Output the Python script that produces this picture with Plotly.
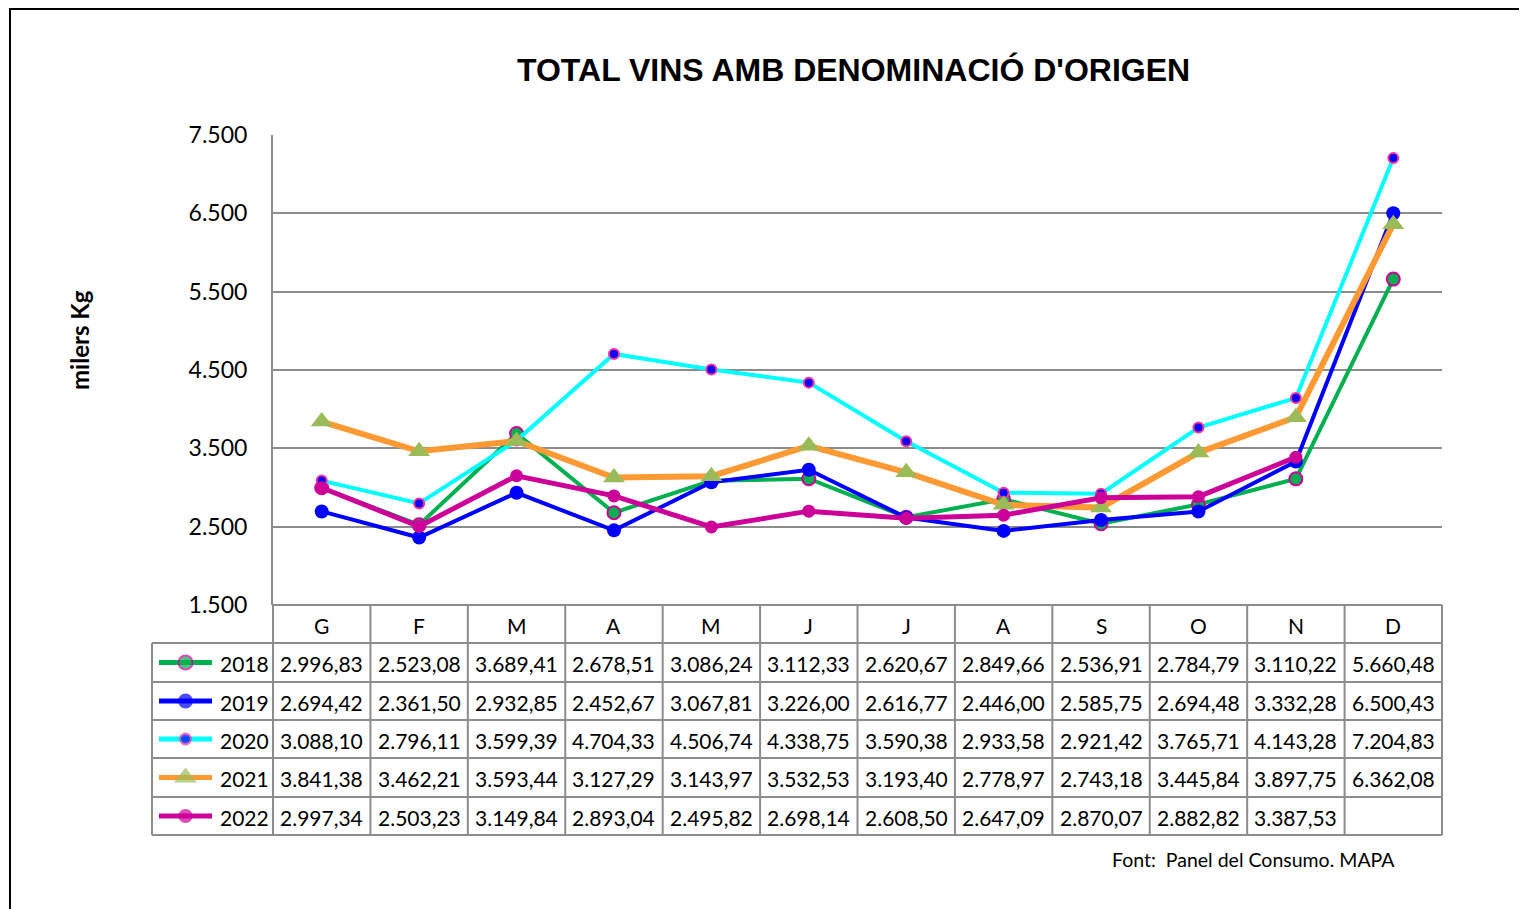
import plotly.graph_objects as go

W, H = 1527, 909
OFF = 8  # page body margin in the browser

months = ["G", "F", "M", "A", "M", "J", "J", "A", "S", "O", "N", "D"]
years = ["2018", "2019", "2020", "2021", "2022"]
v2018 = [2996.83, 2523.08, 3689.41, 2678.51, 3086.24, 3112.33, 2620.67, 2849.66, 2536.91, 2784.79, 3110.22, 5660.48]
v2019 = [2694.42, 2361.50, 2932.85, 2452.67, 3067.81, 3226.00, 2616.77, 2446.00, 2585.75, 2694.48, 3332.28, 6500.43]
v2020 = [3088.10, 2796.11, 3599.39, 4704.33, 4506.74, 4338.75, 3590.38, 2933.58, 2921.42, 3765.71, 4143.28, 7204.83]
v2021 = [3841.38, 3462.21, 3593.44, 3127.29, 3143.97, 3532.53, 3193.40, 2778.97, 2743.18, 3445.84, 3897.75, 6362.08]
v2022 = [2997.34, 2503.23, 3149.84, 2893.04, 2495.82, 2698.14, 2608.50, 2647.09, 2870.07, 2882.82, 3387.53, None]
yticks = [1500, 2500, 3500, 4500, 5500, 6500, 7500]

series = [v2018, v2019, v2020, v2021, v2022]
styles = [
    dict(line=dict(color="#00B050", width=4), marker=dict(symbol="circle", size=13, color="#00B050", line=dict(color="#CC0099", width=2))),
    dict(line=dict(color="#0000FF", width=4), marker=dict(symbol="circle", size=14, color="#0000FF", line=dict(width=0))),
    dict(line=dict(color="#00FFFF", width=4), marker=dict(symbol="circle", size=10, color="#0000FF", line=dict(color="#FF3399", width=2))),
    dict(line=dict(color="#FF9933", width=6), marker=dict(symbol="triangle-up", size=19, color="#9BBB59", line=dict(width=0))),
    dict(line=dict(color="#CC0099", width=5), marker=dict(symbol="circle", size=13, color="#CC0099", line=dict(width=0))),
]

def fx(px):
    return (px - OFF) / W

def fy(py):
    return 1 - (py - OFF) / H

# table geometry (pixels, target picture)
tx0, tx1 = 273, 1442
lx0 = 152
cw = (tx1 - tx0) / 12
row_y = [605, 643, 682, 720, 758, 797, 835]
grid_c = "#8C8C8C"

fig = go.Figure()
x_idx = list(range(12))
for name, vals, st in zip(years, series, styles):
    fig.add_trace(go.Scatter(x=x_idx, y=vals, name=name, mode="lines+markers",
                             line=st["line"], marker=st["marker"], showlegend=False,
                             xaxis="x", yaxis="y", connectgaps=False))

# legend keys in table (aux axis in pixel units)
for i, (name, st) in enumerate(zip(years, styles)):
    yc = (row_y[i + 1] + row_y[i + 2]) / 2
    ln = dict(st["line"])
    ln["width"] = 5
    msize = st["marker"]["size"] + 1
    fig.add_trace(go.Scatter(x=[159, 185.5, 212], y=[yc, yc, yc], mode="lines+markers",
                             line=ln, marker=dict(st["marker"], size=[0, msize, 0]),
                             showlegend=False, xaxis="x2", yaxis="y2", hoverinfo="skip"))

shapes = []
# outer frame
shapes.append(dict(type="rect", xref="paper", yref="paper", x0=fx(10), x1=fx(1560), y0=fy(9), y1=fy(960),
                   line=dict(color="black", width=2), layer="below"))
# horizontal table lines
for k, ry in enumerate(row_y):
    x0 = tx0 if k == 0 else lx0
    shapes.append(dict(type="line", xref="paper", yref="paper", x0=fx(x0), x1=fx(tx1), y0=fy(ry), y1=fy(ry),
                       line=dict(color=grid_c, width=2)))
# vertical table lines
shapes.append(dict(type="line", xref="paper", yref="paper", x0=fx(lx0), x1=fx(lx0), y0=fy(row_y[1]), y1=fy(row_y[-1]),
                   line=dict(color=grid_c, width=2)))
for c in range(13):
    xc = tx0 + c * cw
    shapes.append(dict(type="line", xref="paper", yref="paper", x0=fx(xc), x1=fx(xc), y0=fy(row_y[0]), y1=fy(row_y[-1]),
                       line=dict(color=grid_c, width=2)))

def fmt(v):
    s = f"{v:,.2f}"
    return s.replace(",", "X").replace(".", ",").replace("X", ".")

ann = []
tfont = dict(family="Lato, 'Open Sans', sans-serif", size=21, color="black")
for c, m in enumerate(months):
    ann.append(dict(x=fx(tx0 + (c + 0.5) * cw), y=fy((row_y[0] + row_y[1]) / 2 + 1), xref="paper", yref="paper",
                    text=m, showarrow=False, font=tfont, xanchor="center", yanchor="middle"))
for r, (name, vals) in enumerate(zip(years, series)):
    yc = (row_y[r + 1] + row_y[r + 2]) / 2 + 1
    ann.append(dict(x=fx(218), y=fy(yc), xref="paper", yref="paper", text=name, showarrow=False,
                    font=tfont, xanchor="left", yanchor="middle"))
    for c, v in enumerate(vals):
        if v is None:
            continue
        ann.append(dict(x=fx(tx0 + (c + 0.5) * cw), y=fy(yc), xref="paper", yref="paper", text=fmt(v),
                        showarrow=False, font=tfont, xanchor="center", yanchor="middle"))

ann.append(dict(x=fx(853), y=fy(70), xref="paper", yref="paper", text="<b>TOTAL VINS AMB DENOMINACIÓ D'ORIGEN</b>",
                showarrow=False, font=dict(family="Liberation Sans, Arial, sans-serif", size=32, color="black"),
                xanchor="center", yanchor="middle"))
ann.append(dict(x=fx(79), y=fy(340), xref="paper", yref="paper", text="<b>milers Kg</b>", textangle=-90,
                showarrow=False, font=dict(family="Lato, sans-serif", size=24, color="black"),
                xanchor="center", yanchor="middle"))
ann.append(dict(x=fx(1397), y=fy(859), xref="paper", yref="paper", text="Font:&nbsp; Panel del Consumo. MAPA",
                showarrow=False, font=dict(family="Lato, 'Open Sans', sans-serif", size=19.5, color="black"),
                xanchor="right", yanchor="middle"))

def tick_txt(v):
    return f"{v:,}".replace(",", ".")

fig.update_layout(
    template="none",
    width=W, height=H, margin=dict(l=0, r=0, t=0, b=0, pad=0, autoexpand=False),
    paper_bgcolor="white", plot_bgcolor="white",
    xaxis=dict(domain=[fx(tx0), fx(tx1)], range=[-0.5, 11.5], showgrid=False, zeroline=False,
               showticklabels=False, ticks="", showline=False, fixedrange=True, automargin=False),
    yaxis=dict(domain=[fy(605), fy(135)], range=[1500, 7500], tickvals=yticks,
               ticktext=[tick_txt(v) for v in yticks], showgrid=True, gridcolor=grid_c, gridwidth=2,
               zeroline=False, showline=True, linecolor=grid_c, linewidth=2, ticks="",
               ticklabelstandoff=19, automargin=False,
               tickfont=dict(family="Lato, 'Open Sans', sans-serif", size=23, color="black")),
    xaxis2=dict(domain=[fx(lx0), fx(tx0)], range=[lx0, tx0], visible=False, anchor="y2", fixedrange=True, automargin=False),
    yaxis2=dict(domain=[fy(row_y[-1]), fy(row_y[1])], range=[row_y[-1], row_y[1]], visible=False, anchor="x2",
                fixedrange=True, automargin=False),
    shapes=shapes, annotations=ann,
)

fig.write_html("out.html")
